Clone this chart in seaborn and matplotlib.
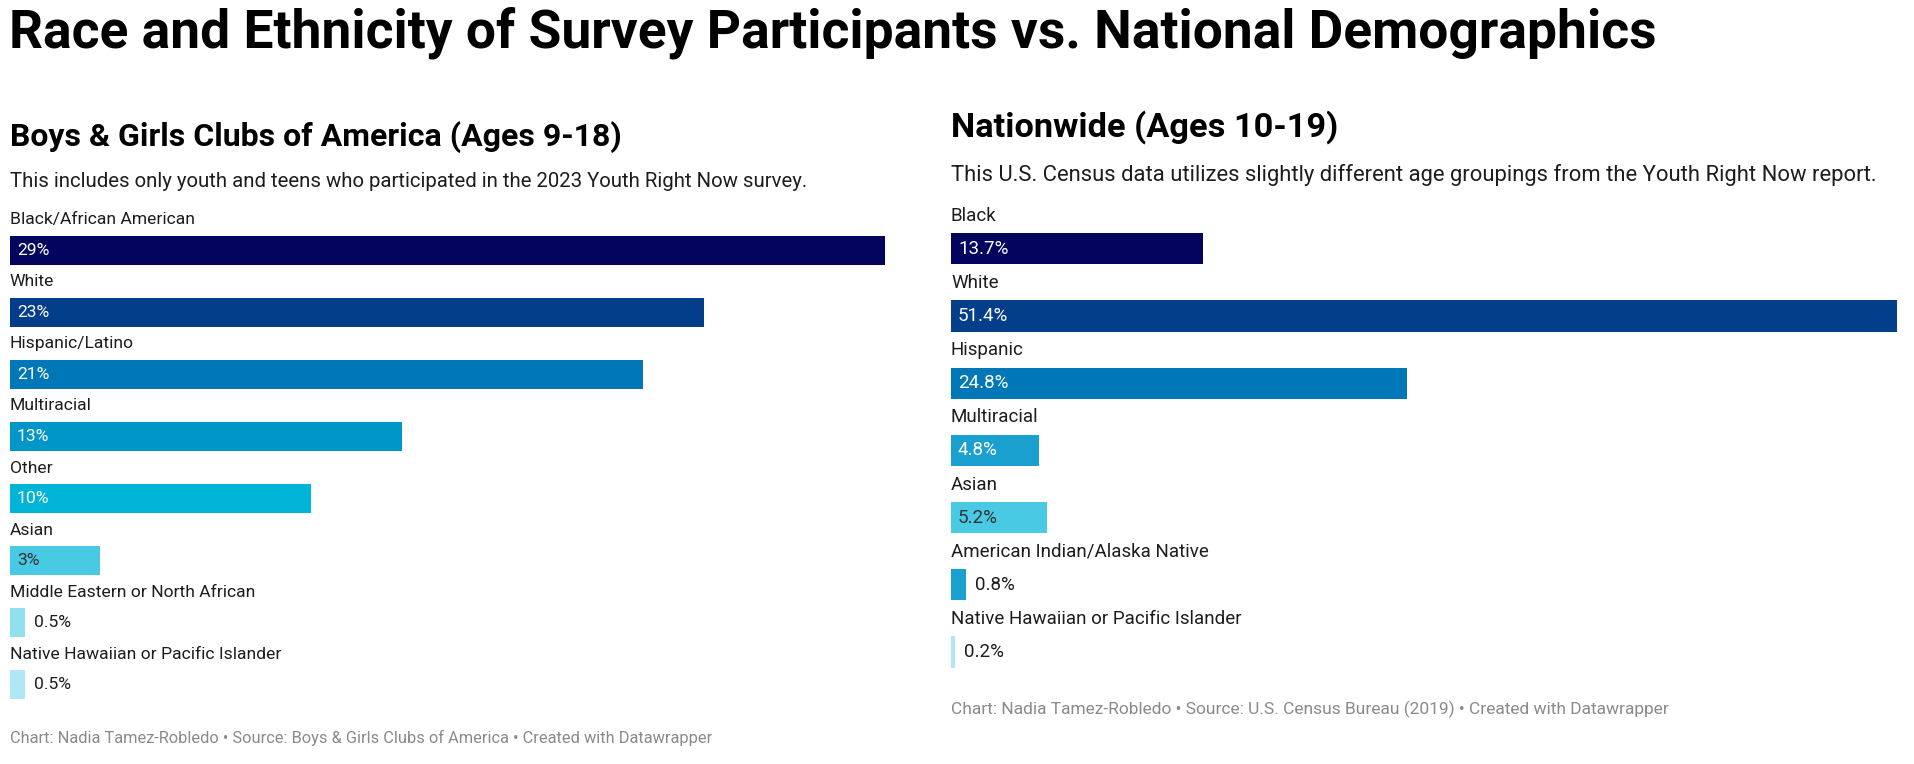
import matplotlib
matplotlib.use("Agg")
import matplotlib.pyplot as plt
import seaborn as sns
from matplotlib.colors import to_rgb

# data
left_cats = ["Black/African American", "White", "Hispanic/Latino", "Multiracial",
             "Other", "Asian", "Middle Eastern or North African",
             "Native Hawaiian or Pacific Islander"]
left_vals = [29, 23, 21, 13, 10, 3, 0.5, 0.5]
left_labels = ["29%", "23%", "21%", "13%", "10%", "3%", "0.5%", "0.5%"]
left_colors = ["#03045e", "#023e8a", "#0077b6", "#0096c7", "#00b4d8",
               "#48cae4", "#90e0ef", "#ade8f4"]

right_cats = ["Black", "White", "Hispanic", "Multiracial", "Asian",
              "American Indian/Alaska Native", "Native Hawaiian or Pacific Islander"]
right_vals = [13.7, 51.4, 24.8, 4.8, 5.2, 0.8, 0.2]
right_labels = ["13.7%", "51.4%", "24.8%", "4.8%", "5.2%", "0.8%", "0.2%"]
right_colors = ["#03045e", "#023e8a", "#0077b6", "#1aa0cf", "#48cae4",
                "#1aa0cf", "#ade8f4"]

W, H = 1914, 764
sns.set_theme(style="white")
plt.rcParams["font.family"] = ["Roboto", "DejaVu Sans"]

fig = plt.figure(figsize=(W / 100, H / 100), dpi=100)
fig.patch.set_facecolor("white")


def fx(x):
    return x / W


def fy(y):
    return 1 - y / H


TXT = "#1d1d1d"
GREY = "#8a8a8a"

fig.text(fx(9), fy(33), "Race and Ethnicity of Survey Participants vs. National Demographics",
         fontsize=38.4, fontweight="bold", color="black", va="center", ha="left")


def panel(x0, x1, top, step, cats, vals, labels, colors, heading, hy, sub, sy,
          footer, fty, scale, foot_fs):
    n = len(cats)
    bottom = top + step * n
    ax = fig.add_axes([fx(x0), fy(bottom), fx(x1) - fx(x0), (bottom - top) / H])
    sns.barplot(x=vals, y=cats, hue=cats, palette=colors, ax=ax, orient="h",
                width=0.466, saturation=1, linewidth=0, legend=False)
    ax.set_xlim(0, max(vals))
    ax.set_ylim(n - 0.5, -0.5)
    ax.set_axis_off()
    px_per_unit = (x1 - x0) / max(vals)
    fs = 12.6 * scale
    for i, (c, v, lab, col) in enumerate(zip(cats, vals, labels, colors)):
        ax.text(0, i - 0.49, c, fontsize=fs, color=TXT, va="center", ha="left")
        bw = v * px_per_unit
        if bw > 60:
            # value inside the bar, light text on dark bars
            r, g, b = to_rgb(col)
            lum = 0.299 * r + 0.587 * g + 0.114 * b
            tc = "white" if lum < 0.6 else "#333333"
            ax.text(7 / px_per_unit, i, lab, fontsize=fs, color=tc,
                    va="center", ha="left")
        else:
            ax.text(v + 9 / px_per_unit, i, lab, fontsize=fs, color=TXT,
                    va="center", ha="left")
    fig.text(fx(x0), fy(hy), heading, fontsize=23 * scale, fontweight="bold",
             color="black", va="center", ha="left")
    fig.text(fx(x0), fy(sy), sub, fontsize=14.7 * scale, color=TXT, va="center", ha="left")
    fig.text(fx(x0), fy(fty), footer, fontsize=foot_fs, color=GREY,
             va="center", ha="left")


panel(9.8, 884.6, 219, 62.1, left_cats, left_vals, left_labels, left_colors,
      "Boys & Girls Clubs of America (Ages 9-18)", 136.7,
      "This includes only youth and teens who participated in the 2023 Youth Right Now survey.",
      181.7,
      "Chart: Nadia Tamez-Robledo \u2022 Source: Boys & Girls Clubs of America \u2022 Created with Datawrapper",
      737.7, 1.0, 11.8)

panel(951, 1896.5, 215.2, 67.2, right_cats, right_vals, right_labels, right_colors,
      "Nationwide (Ages 10-19)", 126.7,
      "This U.S. Census data utilizes slightly different age groupings from the Youth Right Now report.",
      175,
      "Chart: Nadia Tamez-Robledo \u2022 Source: U.S. Census Bureau (2019) \u2022 Created with Datawrapper",
      709.3, 1.075, 12.5)

fig.savefig("out.png", dpi=100, facecolor="white")
